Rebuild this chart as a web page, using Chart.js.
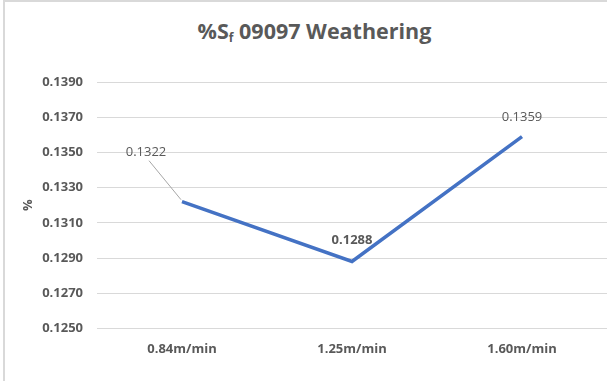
<!DOCTYPE html>
<html>
<head>
<meta charset="utf-8">
<script src="https://cdn.jsdelivr.net/npm/chart.js@4/dist/chart.umd.min.js"></script>
<style>
    html, body { margin: 0; padding: 0; background: #fff; }
    #wrap { position: relative; width: 607px; height: 381px; overflow: hidden; }
    #frame { position: absolute; left: 3px; top: 0; width: 610px; height: 390px;
             border-left: 2px solid #d9d9d9; border-top: 2px solid #d9d9d9; box-sizing: border-box; }
    #title { position: absolute; left: 11px; top: 16px; width: 607px; text-align: center;
             font: bold 21.5px "Open Sans", sans-serif; color: #595959; }
    #title sub { font-size: 12px; vertical-align: -3px; }
    #chart { position: absolute; left: 0; top: 0; }
</style>
</head>
<body>
<div id="wrap">
    <div id="frame"></div>
    <div id="title">%S<sub>f</sub> 09097 Weathering</div>
    <canvas id="chart" width="607" height="381"></canvas>
</div>
<script>
var categories = ['0.84m/min', '1.25m/min', '1.60m/min'];
var sfValues = [0.1322, 0.1288, 0.1359];
var yMin = 0.125;
var yMax = 0.139;
var yStep = 0.002;

// value labels drawn like the Excel data labels
var labelPlugin = {
    id: 'valueLabels',
    afterDatasetsDraw: function (chart) {
        var ctx = chart.ctx;
        var meta = chart.getDatasetMeta(0);
        ctx.save();
        ctx.fillStyle = '#595959';
        ctx.textAlign = 'center';
        ctx.textBaseline = 'middle';
        meta.data.forEach(function (pt, i) {
            var text = sfValues[i].toFixed(4);
            if (i === 0) {
                // leader line to the label
                ctx.strokeStyle = '#a6a6a6';
                ctx.lineWidth = 1;
                ctx.beginPath();
                ctx.moveTo(pt.x - 1, pt.y - 2);
                ctx.lineTo(pt.x - 33, pt.y - 41);
                ctx.stroke();
                ctx.font = '13px "Open Sans", sans-serif';
                ctx.fillText(text, pt.x - 36, pt.y - 49);
            } else if (i === 1) {
                ctx.font = 'bold 13px "Open Sans", sans-serif';
                ctx.fillText(text, pt.x, pt.y - 21);
            } else {
                ctx.font = '13px "Open Sans", sans-serif';
                ctx.fillText(text, pt.x, pt.y - 19);
            }
        });
        ctx.restore();
    }
};

var ctx = document.getElementById('chart').getContext('2d');
var chart = new Chart(ctx, {
    type: 'line',
    data: {
        labels: categories,
        datasets: [{
            label: '%Sf',
            data: sfValues,
            borderColor: '#4472c4',
            borderWidth: 3.5,
            pointRadius: 0,
            fill: false,
            tension: 0
        }]
    },
    options: {
        responsive: false,
        animation: false,
        layout: { padding: { top: 82, right: 0, bottom: 19, left: 20 } },
        plugins: {
            legend: { display: false },
            tooltip: { enabled: false }
        },
        scales: {
            x: {
                offset: true,
                grid: { display: false },
                border: { display: false },
                ticks: {
                    color: '#595959',
                    font: { family: 'Open Sans', size: 13, weight: 'bold' },
                    padding: 5
                }
            },
            y: {
                min: yMin,
                max: yMax,
                grid: { color: '#d9d9d9', drawTicks: false },
                border: { display: false },
                title: {
                    display: true,
                    text: '%',
                    color: '#595959',
                    font: { family: 'Open Sans', size: 13, weight: 'bold' },
                    padding: 0
                },
                ticks: {
                    stepSize: yStep,
                    color: '#595959',
                    padding: 14,
                    font: { family: 'Open Sans', size: 13, weight: 'bold' },
                    callback: function (v) { return v.toFixed(4); }
                },
                afterFit: function (scale) { scale.width = 77; }
            }
        }
    },
    plugins: [labelPlugin]
});
</script>
</body>
</html>
